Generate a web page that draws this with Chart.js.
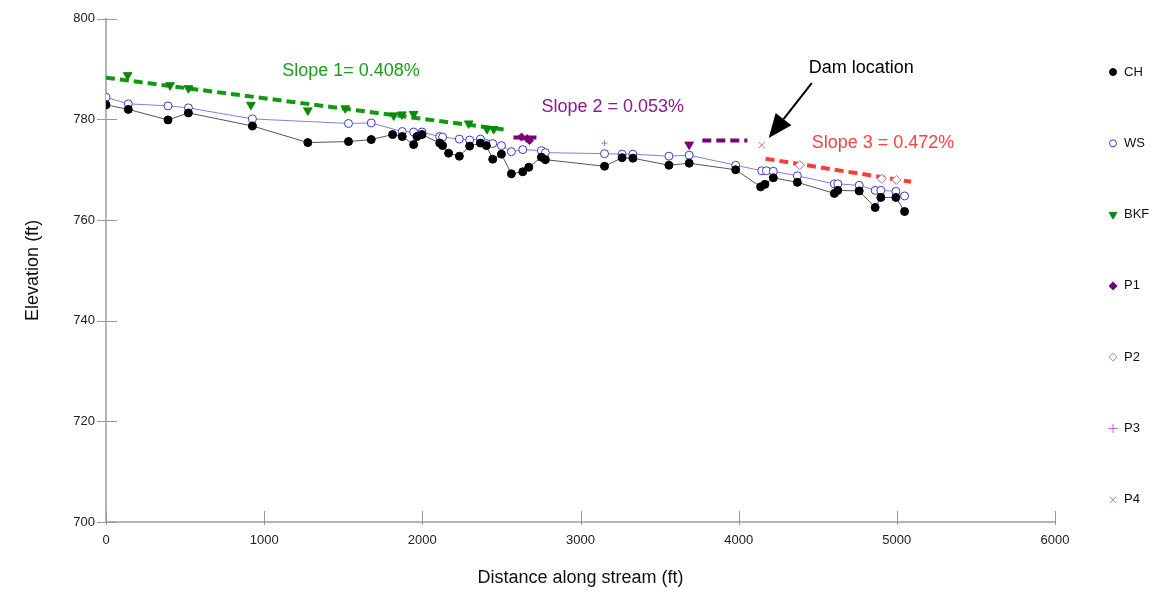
<!DOCTYPE html>
<html>
<head>
<meta charset="utf-8">
<script src="https://cdn.jsdelivr.net/npm/chart.js@4/dist/chart.umd.min.js"></script>
<style>
  body { margin: 0; background: #fff; }
  canvas { display: block; }
</style>
</head>
<body>
<canvas id="profile" width="1168" height="591"></canvas>
<script>
// Longitudinal profile data (distance ft, elevation ft)
const chDist = [0, 141, 392, 521, 926, 1276, 1533, 1677, 1812, 1873, 1945, 1966, 1998, 2110, 2128, 2166, 2234, 2299, 2367, 2405, 2445, 2500, 2563, 2635, 2673, 2753, 2778, 3152, 3263, 3331, 3559, 3687, 3981, 4139, 4166, 4219, 4371, 4605, 4627, 4762, 4863, 4899, 4994, 5049];
const chElev = [782.9, 782.0, 779.9, 781.3, 778.7, 775.4, 775.6, 776.0, 777.0, 776.6, 775.0, 776.6, 777.0, 775.3, 774.8, 773.3, 772.7, 774.7, 775.3, 774.8, 772.1, 773.1, 769.2, 769.6, 770.5, 772.5, 772.0, 770.7, 772.4, 772.3, 770.9, 771.3, 770.0, 766.6, 767.1, 768.4, 767.5, 765.3, 765.9, 765.8, 762.5, 764.5, 764.5, 761.7];

const wsDist = [0, 141, 392, 521, 926, 1533, 1677, 1873, 1945, 1998, 2110, 2128, 2234, 2299, 2367, 2405, 2445, 2500, 2563, 2635, 2753, 2778, 3152, 3263, 3331, 3559, 3687, 3981, 4146, 4175, 4219, 4371, 4605, 4627, 4762, 4863, 4899, 4994, 5049];
const wsElev = [784.4, 783.1, 782.7, 782.3, 780.1, 779.2, 779.3, 777.6, 777.5, 777.5, 776.6, 776.5, 776.1, 775.9, 776.1, 775.2, 775.2, 774.8, 773.6, 774.0, 773.8, 773.4, 773.2, 773.1, 773.1, 772.7, 772.9, 770.9, 769.8, 769.8, 769.7, 768.8, 767.2, 767.2, 766.9, 765.9, 765.9, 765.7, 764.8];

const bkfDist = [137, 405, 521, 916, 1276, 1513, 1819, 1871, 1945, 2293, 2409, 2451];
const bkfElev = [788.8, 786.8, 786.2, 782.9, 781.8, 782.2, 780.8, 781.0, 781.1, 779.2, 778.1, 778.1];

const p1Dist = [2627, 2662, 2677, 3687];
const p1Elev = [776.5, 776.2, 775.8, 775.0];
const p2Dist = [4386, 4905, 4997];
const p2Elev = [770.9, 768.2, 768.0];
const p3Dist = [3152];
const p3Elev = [775.3];
const p4Dist = [4146];
const p4Elev = [774.9];

// slope lines
const slope1Dist = [0, 2544];
const slope1Elev = [788.3, 777.9];
const slope2aDist = [2576, 2728];
const slope2aElev = [776.4, 776.4];
const slope2bDist = [3770, 4055];
const slope2bElev = [775.8, 775.8];
const slope3Dist = [4170, 5090];
const slope3Elev = [772.2, 767.6];

const xTicks = [0, 1000, 2000, 3000, 4000, 5000, 6000];
const yTicks = [700, 720, 740, 760, 780, 800];

function pts(xs, ys) {
  return xs.map((x, i) => ({ x: x, y: ys[i] }));
}

const FONT = '"Liberation Sans", Arial, sans-serif';
const purple = '#7a007a';
const lilac = '#b46cc4';

// text labels placed in data units
const notes = [
  { text: 'Slope 1= 0.408%', x: 1114, y: 789.7, color: '#1a9e1a' },
  { text: 'Slope 2 = 0.053%', x: 2753, y: 782.4, color: '#8b1a8b' },
  { text: 'Dam location', x: 4443, y: 790.3, color: '#000' },
  { text: 'Slope 3 = 0.472%', x: 4462, y: 775.3, color: '#ff4040' }
];
const damArrow = { from: [4462, 787.2], to: [4190, 776.3] };

const trend = (xs, ys, color) => ({
  data: pts(xs, ys),
  showLine: true,
  borderColor: color,
  borderWidth: 4,
  borderDash: [9, 5],
  pointRadius: 0,
  legend: false
});

const datasets = [
  {
    label: 'CH', data: pts(chDist, chElev), showLine: true,
    borderColor: '#555', borderWidth: 1,
    pointStyle: 'circle', pointRadius: 4, pointBackgroundColor: '#000', pointBorderColor: '#000',
    legendR: 3.5
  },
  {
    label: 'WS', data: pts(wsDist, wsElev), showLine: true,
    borderColor: '#8080dd', borderWidth: 1,
    pointStyle: 'circle', pointRadius: 4, pointBackgroundColor: '#fff', pointBorderColor: '#3b3bc0', pointBorderWidth: 1,
    legendR: 3.5, legendFill: false
  },
  {
    label: 'BKF', data: pts(bkfDist, bkfElev),
    pointStyle: 'triangle', rotation: 180, pointRadius: 5,
    pointBackgroundColor: '#0a8a0a', pointBorderColor: '#0a8a0a',
    legendR: 4.5
  },
  {
    label: 'P1', data: pts(p1Dist, p1Elev),
    pointStyle: ['rectRot', 'rectRot', 'rectRot', 'triangle'], rotation: [0, 0, 0, 180],
    pointRadius: [4, 4, 4, 5],
    pointBackgroundColor: purple, pointBorderColor: purple,
    legendR: 4
  },
  {
    label: 'P2', data: pts(p2Dist, p2Elev),
    pointStyle: 'rectRot', pointRadius: 4.5,
    pointBackgroundColor: '#fff', pointBorderColor: lilac, pointBorderWidth: 1,
    legendR: 4, legendFill: false
  },
  {
    label: 'P3', data: pts(p3Dist, p3Elev),
    pointStyle: 'cross', pointRadius: 3,
    pointBorderColor: lilac, pointBorderWidth: 1,
    legendR: 4.5
  },
  {
    label: 'P4', data: pts(p4Dist, p4Elev),
    pointStyle: 'crossRot', pointRadius: 4.5,
    pointBorderColor: lilac, pointBorderWidth: 1,
    legendR: 4.5
  },
  trend(slope1Dist, slope1Elev, '#119911'),
  trend(slope2aDist, slope2aElev, purple),
  trend(slope2bDist, slope2bElev, purple),
  trend(slope3Dist, slope3Elev, '#ff3b3b')
];

// tick marks that cross the axis lines
const crossTicks = {
  id: 'crossTicks',
  afterDraw(chart) {
    const c = chart.ctx, xs = chart.scales.x, ys = chart.scales.y;
    c.save();
    c.strokeStyle = '#999';
    c.lineWidth = 1;
    c.beginPath();
    yTicks.forEach(v => {
      const py = Math.round(ys.getPixelForValue(v)) + 0.5;
      c.moveTo(xs.left - 9, py);
      c.lineTo(xs.left + 11, py);
    });
    xTicks.forEach(v => {
      const px = Math.round(xs.getPixelForValue(v)) + 0.5;
      c.moveTo(px, ys.bottom - 11);
      c.lineTo(px, ys.bottom + 3);
    });
    c.stroke();
    c.restore();
  }
};

// labels and the dam arrow
const notesPlugin = {
  id: 'notes',
  afterDatasetsDraw(chart) {
    const c = chart.ctx, xs = chart.scales.x, ys = chart.scales.y;
    c.save();
    c.font = '18px ' + FONT;
    c.textBaseline = 'middle';
    c.textAlign = 'left';
    notes.forEach(n => {
      c.fillStyle = n.color;
      c.fillText(n.text, xs.getPixelForValue(n.x), ys.getPixelForValue(n.y));
    });
    const x1 = xs.getPixelForValue(damArrow.from[0]), y1 = ys.getPixelForValue(damArrow.from[1]);
    const x2 = xs.getPixelForValue(damArrow.to[0]), y2 = ys.getPixelForValue(damArrow.to[1]);
    const ang = Math.atan2(y2 - y1, x2 - x1);
    const headLen = 24, headW = 10;
    const bx = x2 - headLen * Math.cos(ang), by = y2 - headLen * Math.sin(ang);
    c.strokeStyle = '#000';
    c.fillStyle = '#000';
    c.lineWidth = 2;
    c.beginPath();
    c.moveTo(x1, y1);
    c.lineTo(bx, by);
    c.stroke();
    c.beginPath();
    c.moveTo(x2, y2);
    c.lineTo(bx + headW * Math.sin(ang), by - headW * Math.cos(ang));
    c.lineTo(bx - headW * Math.sin(ang), by + headW * Math.cos(ang));
    c.closePath();
    c.fill();
    c.restore();
  }
};

// legend column on the right
const sideLegend = {
  id: 'sideLegend',
  afterDraw(chart) {
    const c = chart.ctx;
    const items = chart.data.datasets.filter(d => d.legend !== false);
    c.save();
    c.font = '13px ' + FONT;
    c.textBaseline = 'middle';
    items.forEach((d, i) => {
      const y = 72 + i * 71.3;
      const style = Array.isArray(d.pointStyle) ? d.pointStyle[0] : d.pointStyle;
      const rot = Array.isArray(d.rotation) ? d.rotation[0] : (d.rotation || 0);
      c.fillStyle = d.legendFill === false ? '#fff' : (d.pointBackgroundColor || d.pointBorderColor);
      c.strokeStyle = d.pointBorderColor;
      c.lineWidth = 1;
      Chart.helpers.drawPoint(c, { pointStyle: style, radius: d.legendR, rotation: rot, borderWidth: 1 }, 1113, y);
      c.fillStyle = '#111';
      c.fillText(d.label, 1124, y);
    });
    c.restore();
  }
};

new Chart(document.getElementById('profile'), {
  type: 'scatter',
  data: { datasets: datasets },
  options: {
    responsive: false,
    animation: false,
    layout: { padding: { left: 0, right: 113, top: 14, bottom: 0 } },
    plugins: {
      legend: { display: false },
      tooltip: { enabled: false }
    },
    scales: {
      x: {
        type: 'linear', min: 0, max: 6000,
        afterFit: s => { s.height = 69; },
        afterBuildTicks: s => { s.ticks = xTicks.map(v => ({ value: v })); },
        grid: { display: false, drawTicks: false },
        border: { display: true, color: '#b4b4b4', width: 2 },
        ticks: { color: '#222', font: { family: FONT, size: 13 }, padding: 11, maxRotation: 0, callback: v => String(v) },
        title: { display: true, text: 'Distance along stream (ft)', color: '#111', font: { family: FONT, size: 18 }, padding: { top: 0, bottom: 2 } }
      },
      y: {
        type: 'linear', min: 700, max: 800,
        afterFit: s => { s.width = 106; },
        afterBuildTicks: s => { s.ticks = yTicks.map(v => ({ value: v })); },
        grid: { display: false, drawTicks: false },
        border: { display: true, color: '#b4b4b4', width: 2 },
        ticks: { color: '#222', font: { family: FONT, size: 13 }, padding: 11, callback: v => String(v) },
        title: { display: true, text: 'Elevation (ft)', color: '#111', font: { family: FONT, size: 18 }, padding: { top: 22, bottom: 0 } }
      }
    }
  },
  plugins: [crossTicks, notesPlugin, sideLegend]
});
</script>
</body>
</html>
